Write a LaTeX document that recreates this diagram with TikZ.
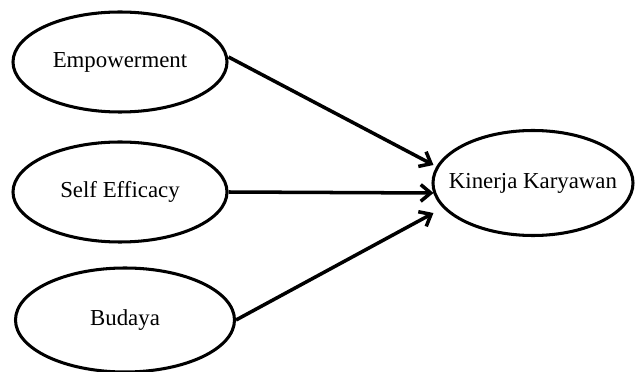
\documentclass[tikz,border=0pt]{standalone}
\usepackage{fontspec}
\setmainfont{Liberation Serif}
\usetikzlibrary{shapes.geometric,arrows.meta,calc}
\tikzset{
  var/.style={ellipse,draw,line width=2.6pt,inner sep=0pt,font=\fontsize{19.5}{23}\selectfont},
  link/.style={line width=3pt,-{Straight Barb[length=3mm,width=5mm]}}
}
\begin{document}
\begin{tikzpicture}[x=0.03cm,y=-0.03cm]
\useasboundingbox (0,0) rectangle (635,372);

\node[var,minimum width=6.42cm,minimum height=3cm] (emp) at (120,62) {Empowerment};
\node[var,minimum width=6.42cm,minimum height=3cm] (eff) at (120,192) {Self Efficacy};
\node[var,minimum width=6.57cm,minimum height=3.12cm] (bud) at (125,320) {Budaya};
\node[var,inner xsep=-14pt,minimum width=6cm,minimum height=3.15cm] (kin) at (533,183) {Kinerja Karyawan};

\coordinate (inEmp) at ($(kin.west)+(2,-18)$);
\coordinate (inEff) at ($(kin.west)+(2,10)$);
\coordinate (inBud) at ($(kin.west)+(2,30)$);

\draw[link] ($(emp.east)+(0,-5)$) -- (inEmp);
\draw[link] (eff.east) -- (inEff);
\draw[link] (bud.east) -- (inBud);
\end{tikzpicture}
\end{document}
